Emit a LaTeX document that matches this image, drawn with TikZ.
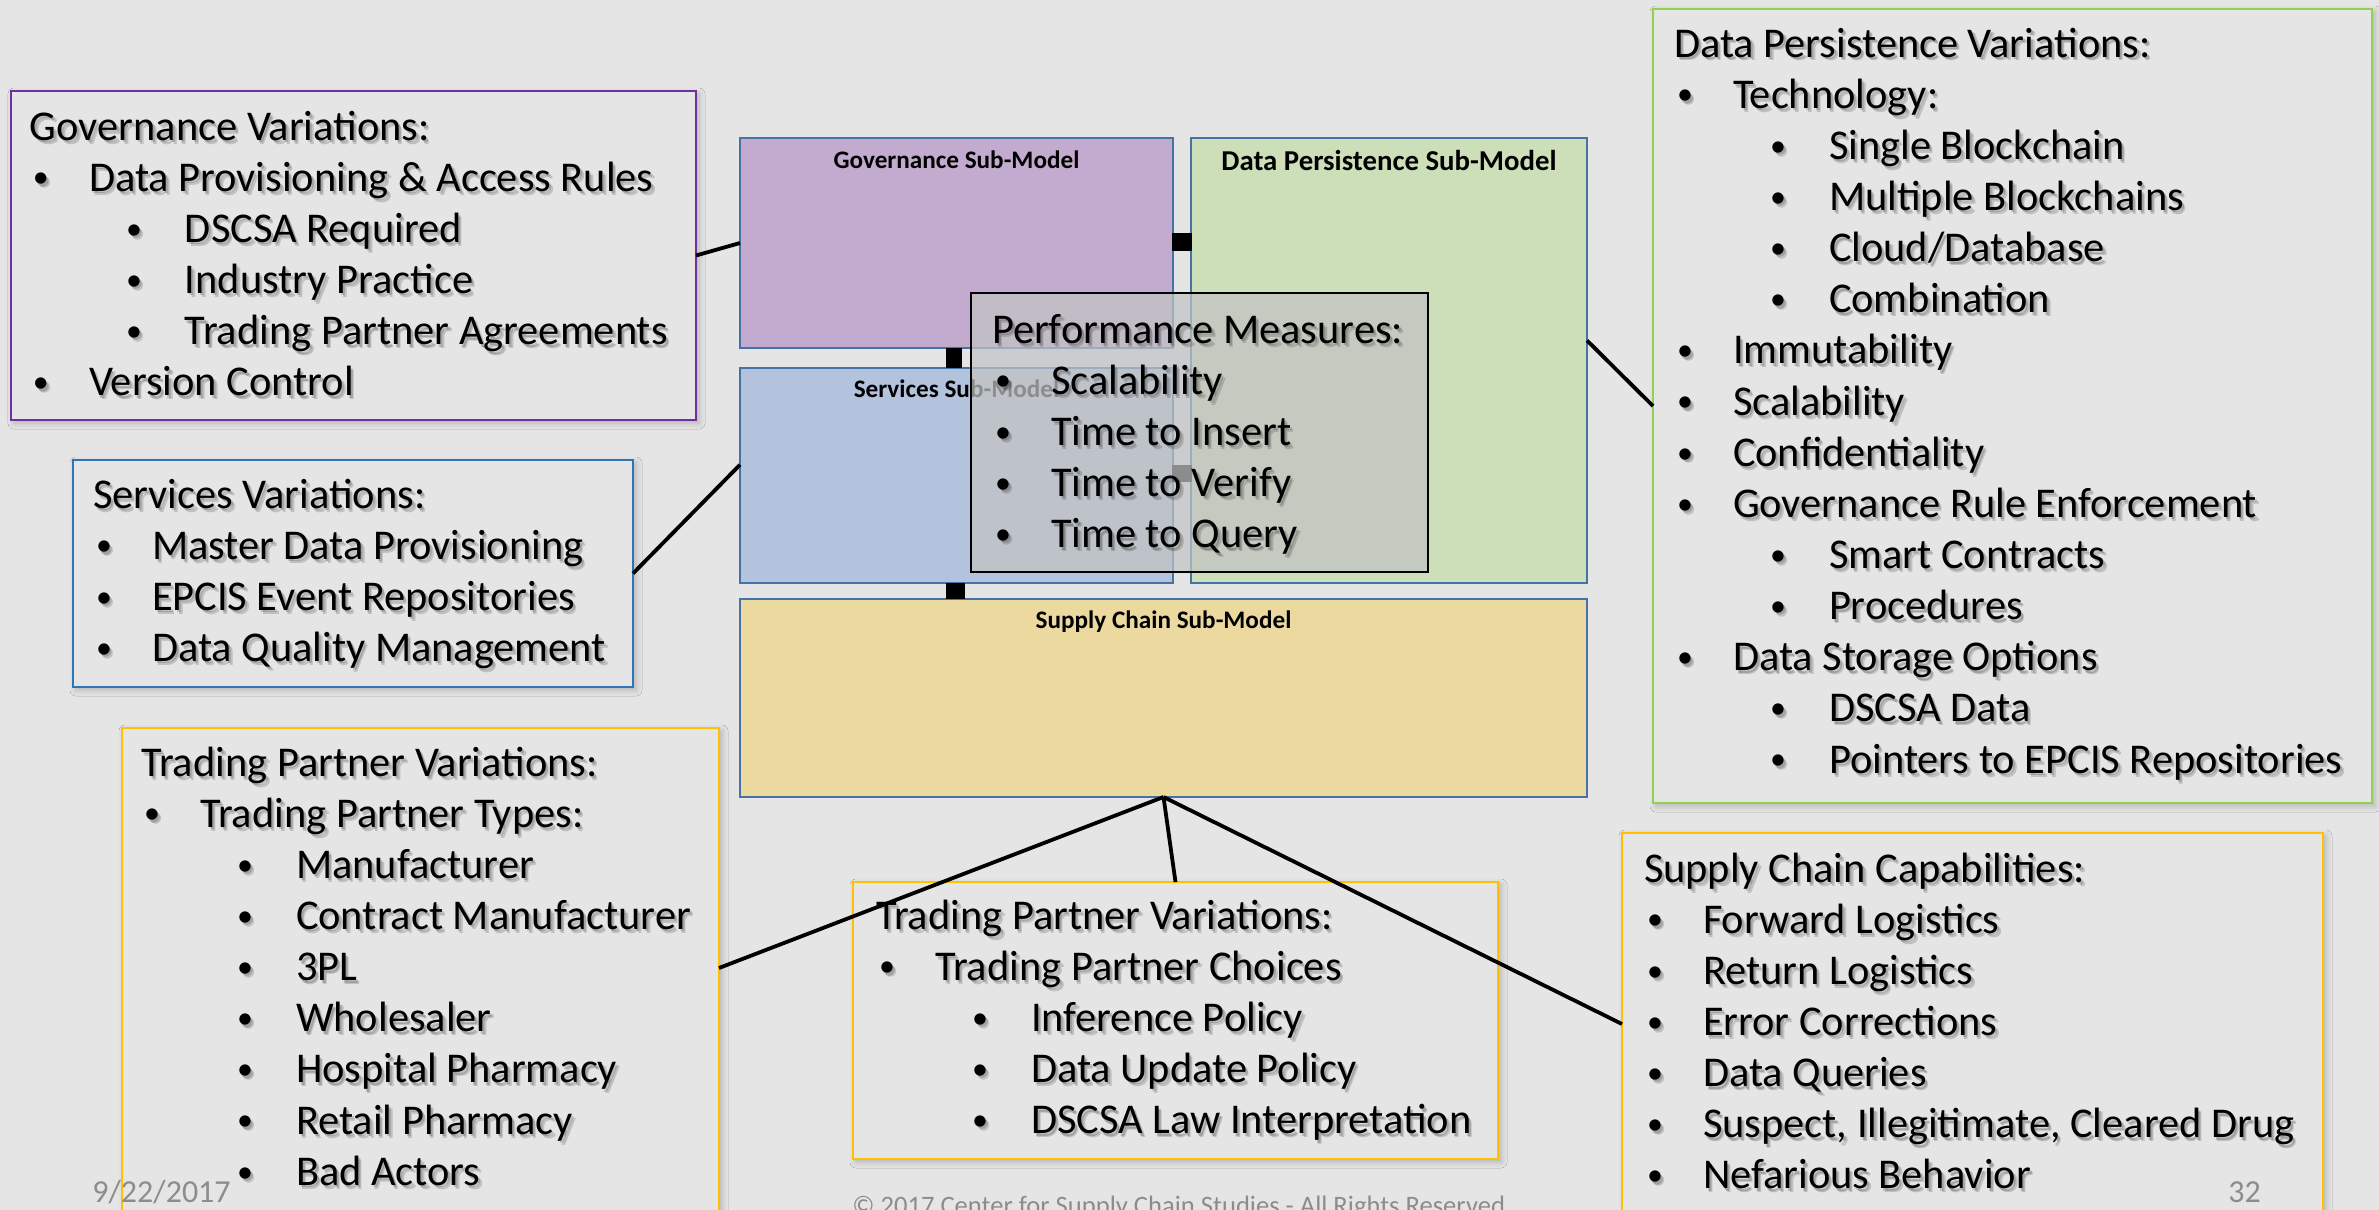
\documentclass[tikz,border=0pt]{standalone}
\usepackage{fontspec}
\setmainfont{Carlito}
\usetikzlibrary{calc,fit,shadows.blur}

\definecolor{bgc}{RGB}{229,229,229}
\definecolor{govfill}{RGB}{195,170,207}
\definecolor{dpfill}{RGB}{205,223,184}
\definecolor{svfill}{RGB}{180,195,221}
\definecolor{scfill}{RGB}{236,217,160}
\definecolor{subline}{RGB}{70,115,165}
\definecolor{purpleline}{RGB}{112,48,160}
\definecolor{blueline}{RGB}{46,117,182}
\definecolor{goldline}{RGB}{255,192,0}
\definecolor{greenline}{RGB}{146,208,80}
\definecolor{pmfill}{RGB}{194,195,196}
\definecolor{footgray}{RGB}{140,140,140}

% list lines: heading, first-level bullet, second-level bullet
\newcommand\bul{\hspace*{1.5pt}\raisebox{1.6pt}{\fontsize{16}{16}\selectfont •}}
\newcommand\ttl[1]{#1\par}
\newcommand\bl[1]{\makebox[29.5pt][l]{\bul}#1\par}
\newcommand\sbl[1]{\hspace*{46.5pt}\makebox[31pt][l]{\bul}#1\par}
\newcommand\listbody[1]{\begin{minipage}[t]{700pt}\fontsize{21.2}{25.575}\selectfont
  \parindent=0pt\parskip=0pt #1\end{minipage}}

% a text block with a soft drop shadow behind it
\newcommand\txtblock[3]{%
  \node[txtsh] (#1sa) at ($(#2)+(3.5,4)$) {\listbody{#3}};
  \node[txtsh] (#1sb) at ($(#2)+(2,2.5)$) {\listbody{#3}};
  \node[txt] (#1) at (#2) {\listbody{#3}};}

\tikzset{
  txt/.style={anchor=base west, inner sep=0pt, outer sep=0pt},
  txtsh/.style={txt, text=black, text opacity=0.16},
  varbox/.style={inner sep=0pt, outer sep=0pt, line width=1pt, fill=bgc,
    blur shadow={shadow xshift=1.5pt, shadow yshift=-1.5pt, shadow blur radius=3pt, shadow opacity=22}},
  subbox/.style={inner sep=0pt, outer sep=0pt, draw=subline, line width=0.8pt},
  subttl/.style={anchor=base, inner sep=0pt, font=\fontsize{12.6}{14}\selectfont\bfseries},
  joint/.style={inner sep=0pt, outer sep=0pt, fill=black},
  link/.style={line width=1.9pt, black},
  foot/.style={anchor=base west, inner sep=0pt, text=footgray},
}

\begin{document}
\begin{tikzpicture}[x=0.5pt, y=-0.5pt]
\useasboundingbox (0,0) rectangle (2379,1210);
\fill[bgc] (0,0) rectangle (2379,1210);

% variation boxes
\node[varbox, draw=purpleline, fit={(11,91) (696,420)}] (gvbox) {};
\node[varbox, draw=blueline, fit={(73,460) (633,687)}] (svbox) {};
\node[varbox, draw=goldline, fit={(122,728) (719,1230)}] (tplbox) {};
\node[varbox, draw=goldline, fit={(853,882) (1498,1159)}] (tpmbox) {};
\node[varbox, draw=greenline, fit={(1653,9) (2372,803)}] (dpbox) {};
\node[varbox, draw=goldline, fit={(1622,833) (2323,1230)}] (scbox) {};

% sub-models
\node[subbox, fill=govfill, fit={(740,138) (1173,348)}] (govsub) {};
\node[subbox, fill=dpfill, fit={(1191,138) (1587,583)}] (dpsub) {};
\node[subbox, fill=svfill, fit={(740,368) (1173,583)}] (svsub) {};
\node[subbox, fill=scfill, fit={(740,599) (1587,797)}] (scsub) {};

% joints between sub-models
\node[joint, fit={(1172,233) (1192,251)}] (j1) {};
\node[joint, fit={(946,348) (962,368)}] (j2) {};
\node[joint, fit={(1172,465) (1192,482)}] (j3) {};
\node[joint, fit={(946,583) (965,599)}] (j4) {};

\node[subttl] (gst) at ($(govsub.north)+(0,30)$) {Governance Sub-Model};
\node[subttl, font=\fontsize{14.4}{16}\selectfont\bfseries] (dst) at ($(dpsub.north)+(0,32)$) {Data Persistence Sub-Model};
\node[subttl] (sst) at ($(svsub.north)+(0,29)$) {Services Sub-Model};
\node[subttl] (cst) at ($(scsub.north)+(0,29)$) {Supply Chain Sub-Model};

% performance measures overlay
\node[inner sep=0pt, outer sep=0pt, fill=pmfill, fill opacity=0.72, draw=black, line width=1pt,
  fit={(971,293) (1428,572)}] (pmbox) {};
\txtblock{pm}{992,343}{%
  \ttl{Performance Measures:}
  \bl{Scalability}
  \bl{Time to Insert}
  \bl{Time to Verify}
  \bl{Time to Query}}

% connectors
\draw[link] (gvbox.east) -- (govsub.west);
\draw[link] (svbox.east) -- ($(svsub.north west)!0.45!(svsub.south west)$);
\draw[link] ($(dpsub.north east)!0.455!(dpsub.south east)$) -- (dpbox.west);
\draw[link] (scsub.south) -- ($(tplbox.north east)+(0,240)$);
\draw[link] (scsub.south) -- (tpmbox.north);
\draw[link] (scsub.south) -- ($(scbox.north west)+(0,191)$);

% variation texts
\txtblock{gv}{30,140}{%
  \ttl{Governance Variations:}
  \bl{Data Provisioning \& Access Rules}
  \sbl{DSCSA Required}
  \sbl{Industry Practice}
  \sbl{Trading Partner Agreements}
  \bl{Version Control}}

\txtblock{sv}{93,508}{%
  \ttl{Services Variations:}
  \bl{Master Data Provisioning}
  \bl{EPCIS Event Repositories}
  \bl{Data Quality Management}}

\txtblock{tpl}{141,776}{%
  \ttl{Trading Partner Variations:}
  \bl{Trading Partner Types:}
  \sbl{Manufacturer}
  \sbl{Contract Manufacturer}
  \sbl{3PL}
  \sbl{Wholesaler}
  \sbl{Hospital Pharmacy}
  \sbl{Retail Pharmacy}
  \sbl{Bad Actors}}

\txtblock{tpm}{876,929}{%
  \ttl{Trading Partner Variations:}
  \bl{Trading Partner Choices}
  \sbl{Inference Policy}
  \sbl{Data Update Policy}
  \sbl{DSCSA Law Interpretation}}

\txtblock{dp}{1674,57}{%
  \ttl{Data Persistence Variations:}
  \bl{Technology:}
  \sbl{Single Blockchain}
  \sbl{Multiple Blockchains}
  \sbl{Cloud/Database}
  \sbl{Combination}
  \bl{Immutability}
  \bl{Scalability}
  \bl{Confidentiality}
  \bl{Governance Rule Enforcement}
  \sbl{Smart Contracts}
  \sbl{Procedures}
  \bl{Data Storage Options}
  \sbl{DSCSA Data}
  \sbl{Pointers to EPCIS Repositories}}

\txtblock{sc}{1644,882}{%
  \ttl{Supply Chain Capabilities:}
  \bl{Forward Logistics}
  \bl{Return Logistics}
  \bl{Error Corrections}
  \bl{Data Queries}
  \bl{Suspect, Illegitimate, Cleared Drug}
  \bl{Nefarious Behavior}}

% footer
\node[foot, font=\fontsize{16}{18}\selectfont] (date) at (92,1202) {9/22/2017};
\node[foot, font=\fontsize{13.3}{15}\selectfont] (copy) at (852,1214) {© 2017 Center for Supply Chain Studies - All Rights Reserved};
\node[foot, font=\fontsize{16}{18}\selectfont] (page) at (2228,1202) {32};
\end{tikzpicture}
\end{document}
